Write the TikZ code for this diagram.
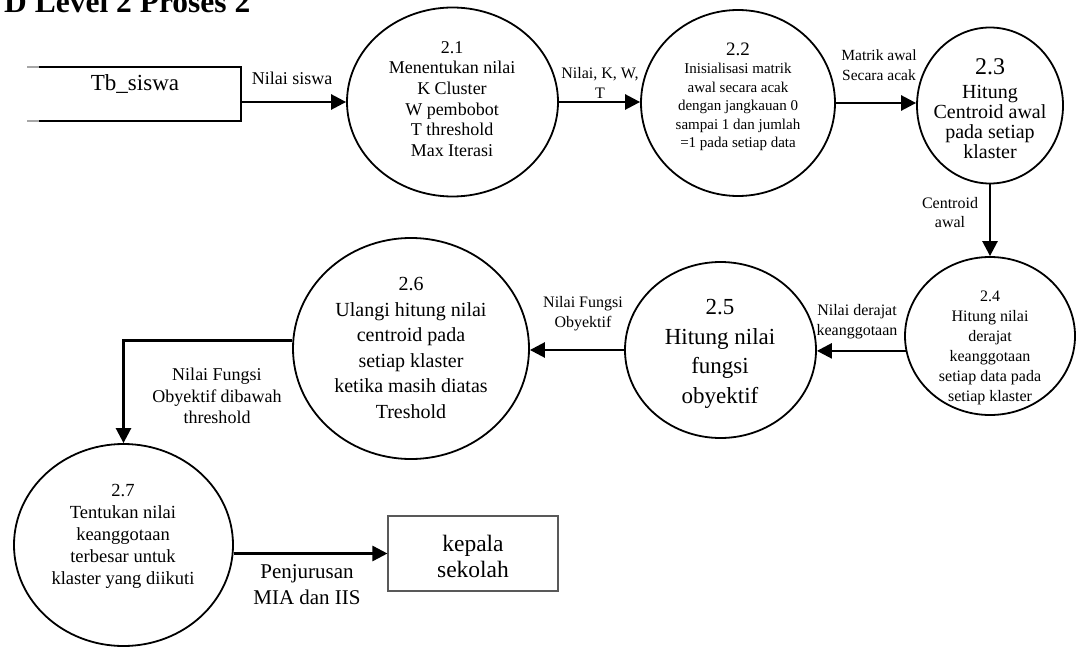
\documentclass[tikz,border=0pt]{standalone}
\usepackage{fontspec}
\setmainfont{Liberation Serif}
\usetikzlibrary{shapes.geometric,arrows.meta}

\newcommand{\fsz}[2]{\fontsize{#1}{#2}\selectfont}

\tikzset{
  proc/.style={draw, ellipse, line width=1.8pt, inner sep=0pt},
  entity/.style={draw=black!65, rectangle, line width=1.1pt, inner sep=0pt},
  flow/.style={line width=2.6pt, -{Triangle[length=15pt,width=15pt]}},
  lbl/.style={align=center, inner sep=0pt},
}

\begin{document}
\begin{tikzpicture}[x=1pt,y=-1pt]
\clip (0,0) rectangle (1089,647);

% heading
\node[anchor=base west, inner sep=0pt, font=\bfseries\fsz{31.5}{36}] (title) at (4,12.5) {D Level 2 Proses 2};

% data store Tb_siswa (open on the left)
\node[minimum width=202pt, minimum height=54pt, inner sep=0pt] (tb) at (140,94) {};
\draw[line width=1.8pt] (tb.north west) -- (tb.north east) -- (tb.south east) -- (tb.south west);
\draw[line width=1.8pt, black!35] (tb.north west) -- ++(-12,0);
\draw[line width=1.8pt, black!35] (tb.south west) -- ++(-12,0);
\node[lbl, font=\fsz{23}{26}] (tbt) at (135,84.5) {Tb\_siswa};

% processes
\node[proc, minimum width=211pt, minimum height=189pt] (p21) at (452.5,102) {};
\node[proc, minimum width=194pt, minimum height=186pt] (p22) at (738,103) {};
\node[proc, minimum width=146pt, minimum height=156pt] (p23) at (990,105.5) {};
\node[proc, minimum width=170pt, minimum height=158pt] (p24) at (990,336) {};
\node[proc, minimum width=191pt, minimum height=176pt] (p25) at (720.5,350) {};
\node[proc, minimum width=236pt, minimum height=221pt] (p26) at (411,348.5) {};
\node[proc, minimum width=219pt, minimum height=202pt] (p27) at (123.5,545) {};

% external entity
\node[entity, minimum width=170pt, minimum height=75pt] (kp) at (473,553.5) {};

% process texts
\node[lbl, font=\fsz{18}{20.6}] (p21t) at (452,99) {2.1\\Menentukan nilai\\K Cluster\\W pembobot\\T threshold\\Max Iterasi};
\node[lbl, font=\fsz{15}{18.5}] (p22t) at (738,97) {{\fsz{19}{18.5}2.2}\\Inisialisasi matrik\\awal secara acak\\dengan jangkauan 0\\sampai 1 dan jumlah\\=1 pada setiap data};
\node[lbl, font=\fsz{20}{20.3}] (p23t) at (990,109) {{\fsz{24}{20.3}2.3}\\[3pt]Hitung\\Centroid awal\\pada setiap\\klaster};
\node[lbl, font=\fsz{16}{20}] (p24t) at (990,348) {2.4\\Hitung nilai\\derajat\\keanggotaan\\setiap data pada\\setiap klaster};
\node[lbl, font=\fsz{23}{29.5}] (p25t) at (720,354) {2.5\\Hitung nilai\\fungsi\\obyektif};
\node[lbl, font=\fsz{20}{25.6}] (p26t) at (411,348) {2.6\\Ulangi hitung nilai\\centroid pada\\setiap klaster\\ketika masih diatas\\Treshold};
\node[lbl, font=\fsz{18.5}{22}] (p27t) at (123,536) {2.7\\Tentukan nilai\\keanggotaan\\terbesar untuk\\klaster yang diikuti};
\node[lbl, font=\fsz{23.5}{26}] (kpt) at (473,556) {kepala\\sekolah};

% data flows
\draw[flow] (tb.east |- p21.west) -- (p21.west);
\draw[flow] (p21.east) -- (p21.east -| p22.west);
\draw[flow] (p22.east) -- (p22.east -| p23.west);
\draw[flow] (p23.south) -- (p24.north);
\draw[flow] (p24.190) -- (p24.190 -| p25.east);
\draw[flow] (p25.west) -- (p25.west -| p26.east);
\draw[flow] (p26.176) -| (p27.north);
\draw[flow] (kp.west -| p27.east) -- (kp.west);

% flow labels
\node[lbl, font=\fsz{18}{20}] (f1) at (292,78) {Nilai siswa};
\node[lbl, font=\fsz{16}{20}] (f2) at (600,83) {Nilai, K, W,\\T};
\node[lbl, font=\fsz{15.5}{20}] (f3) at (879,65) {Matrik awal\\Secara acak};
\node[lbl, font=\fsz{16}{19}] (f4) at (950,213) {Centroid\\awal};
\node[lbl, font=\fsz{16}{20}] (f5) at (857,322) {Nilai derajat\\keanggotaan};
\node[lbl, font=\fsz{16}{20}] (f6) at (583,314) {Nilai Fungsi\\Obyektif};
\node[lbl, font=\fsz{18}{21.5}] (f7) at (217,396) {Nilai Fungsi\\Obyektif dibawah\\threshold};
\node[lbl, font=\fsz{21}{26}] (f8) at (307,585) {Penjurusan\\MIA dan IIS};
\end{tikzpicture}
\end{document}
